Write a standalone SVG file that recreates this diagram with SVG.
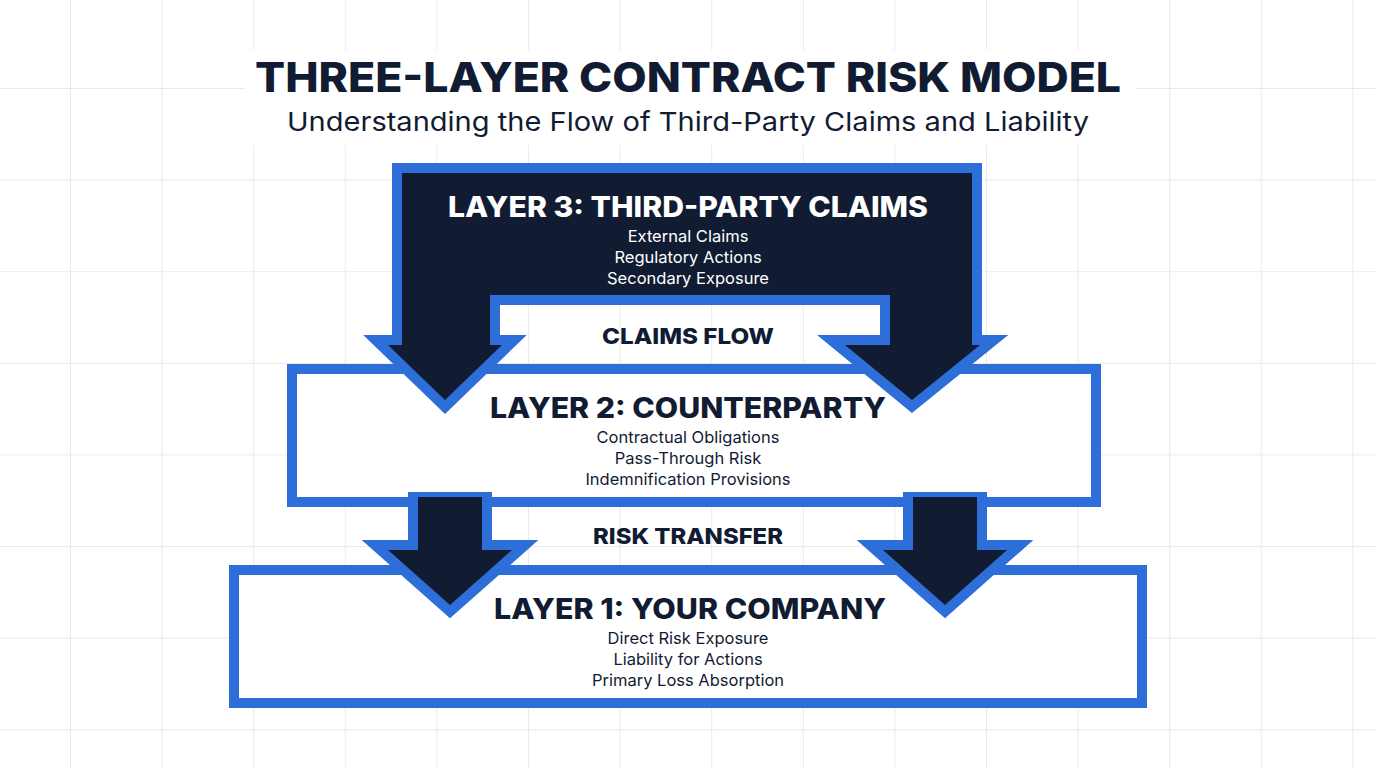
<svg xmlns="http://www.w3.org/2000/svg" width="1376" height="768" viewBox="0 0 1376 768">
<defs>
<pattern id="grid" x="70" y="88" width="91.6" height="91.6" patternUnits="userSpaceOnUse">
<path d="M0 0V91.6M0 0H91.6" fill="none" stroke="#e3e3e6" stroke-width="1.5"/>
</pattern>
</defs>
<style>
.t{font-family:Inter,"Open Sans",sans-serif;text-anchor:middle}
.h{font-weight:800;font-size:28px}
.s{font-size:16.5px}
.box{fill:#fff;stroke:#2e6ed8;stroke-width:10}
.bl{fill:#2e6ed8;stroke:#2e6ed8;stroke-width:20;stroke-linejoin:miter}
.nv{fill:#111c33}
</style>
<rect width="1376" height="768" fill="#fff"/>
<rect width="1376" height="768" fill="url(#grid)"/>
<rect x="245" y="50" width="890" height="95" fill="#fff"/>
<text class="t" x="688" y="92" font-size="41" font-weight="800" fill="#111c33" textLength="866" lengthAdjust="spacingAndGlyphs">THREE-LAYER CONTRACT RISK MODEL</text>
<text class="t" x="688" y="131" font-size="26" fill="#111c33" textLength="802" lengthAdjust="spacingAndGlyphs">Understanding the Flow of Third-Party Claims and Liability</text>

<g id="layer1">
<rect class="box" x="234" y="570" width="908" height="133"/>
</g>
<g id="layer2">
<rect class="box" x="292" y="369" width="804" height="133"/>
</g>
<g id="connectors">
<g id="arrows-2-1">
<polygon class="bl" points="418,502 482,502 482,550 512,550 450,605 388,550 418,550"/>
<polygon class="bl" points="913,502 977,502 977,550 1007,550 945,605 883,550 913,550"/>
<polygon class="nv" points="418,497 482,497 482,550 512,550 450,605 388,550 418,550"/>
<polygon class="nv" points="913,497 977,497 977,550 1007,550 945,605 883,550 913,550"/>
</g>
</g>
<g id="layer3">
<rect class="bl" x="402" y="173" width="570" height="122"/>
<polygon class="bl" points="402,295 490,295 490,345 502,345 445,400 388,345 402,345"/>
<polygon class="bl" points="890,295 972,295 972,345 980,345 912,400 845,345 890,345"/>
<rect class="nv" x="402" y="173" width="570" height="122"/>
<polygon class="nv" points="402,290 490,290 490,345 502,345 445,400 388,345 402,345"/>
<polygon class="nv" points="890,290 972,290 972,345 980,345 912,400 845,345 890,345"/>
<text class="t h" x="688" y="217" fill="#fff" textLength="480" lengthAdjust="spacingAndGlyphs">LAYER 3: THIRD-PARTY CLAIMS</text>
<text class="t s" x="688" y="242" fill="#fff">External Claims</text>
<text class="t s" x="688" y="263" fill="#fff">Regulatory Actions</text>
<text class="t s" x="688" y="284" fill="#fff">Secondary Exposure</text>
</g>
<text class="t" x="688" y="344" font-size="22" font-weight="800" fill="#111c33" textLength="172" lengthAdjust="spacingAndGlyphs">CLAIMS FLOW</text>
<text class="t h" x="688" y="418" fill="#111c33" textLength="396" lengthAdjust="spacingAndGlyphs">LAYER 2: COUNTERPARTY</text>
<text class="t s" x="688" y="443" fill="#111c33">Contractual Obligations</text>
<text class="t s" x="688" y="464" fill="#111c33">Pass-Through Risk</text>
<text class="t s" x="688" y="485" fill="#111c33">Indemnification Provisions</text>
<text class="t" x="688" y="544" font-size="22" font-weight="800" fill="#111c33" textLength="190" lengthAdjust="spacingAndGlyphs">RISK TRANSFER</text>
<text class="t h" x="690" y="619" fill="#111c33" textLength="392" lengthAdjust="spacingAndGlyphs">LAYER 1: YOUR COMPANY</text>
<text class="t s" x="688" y="644" fill="#111c33">Direct Risk Exposure</text>
<text class="t s" x="688" y="665" fill="#111c33">Liability for Actions</text>
<text class="t s" x="688" y="686" fill="#111c33">Primary Loss Absorption</text>
</svg>
